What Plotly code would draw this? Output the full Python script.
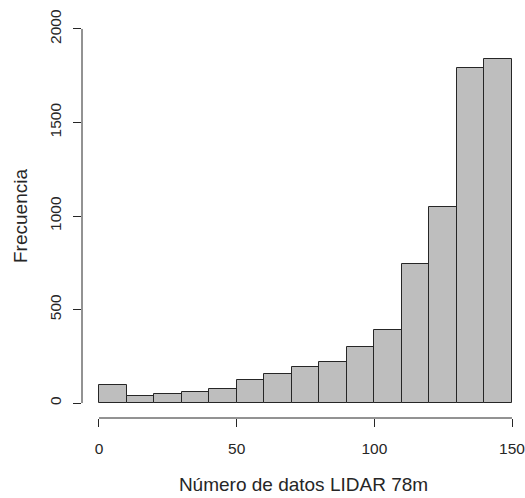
import plotly.graph_objects as go

bin_starts = [0, 10, 20, 30, 40, 50, 60, 70, 80, 90, 100, 110, 120, 130, 140]
bin_width = 10
frecuencia = [98, 37, 50, 61, 77, 123, 154, 191, 220, 301, 389, 742, 1048, 1792, 1841]
x_ticks = [0, 50, 100, 150]
y_ticks = [0, 500, 1000, 1500, 2000]

centers = [s + bin_width / 2 for s in bin_starts]

FONT = "Liberation Sans, Arial, sans-serif"
INK = "#262626"
fig = go.Figure(go.Bar(
    x=centers, y=frecuencia, width=[bin_width] * len(centers),
    marker=dict(color="#BEBEBE", line=dict(color=INK, width=1)),
    hoverinfo="skip",
))

fig.update_layout(
    width=525, height=498,
    margin=dict(l=82, r=0, t=14, b=80),
    paper_bgcolor="white", plot_bgcolor="white",
    showlegend=False,
    font=dict(family=FONT, size=15.5, color=INK),
    bargap=0,
)
fig.update_xaxes(
    range=[-6.17, 154.72], tickvals=x_ticks, ticks="outside", ticklen=8,
    tickcolor=INK, tickwidth=1, showgrid=False, zeroline=False, showline=False,
    ticklabelstandoff=8, ticklabeloverflow="allow",
    title=dict(text="Número de datos LIDAR 78m", standoff=22),
)
fig.update_yaxes(
    range=[-80, 2080], tickvals=y_ticks, ticks="outside", ticklen=8,
    tickcolor=INK, tickwidth=1, showgrid=False, zeroline=False, showline=False,
    tickangle=-90, ticklabelstandoff=6, ticklabeloverflow="allow",
    title=dict(text="Frecuencia", standoff=14),
)
fig.add_shape(type="line", xref="x", yref="paper", x0=x_ticks[0], x1=x_ticks[-1], y0=0, y1=0,
              line=dict(color=INK, width=1))
fig.add_shape(type="line", xref="paper", yref="y", x0=0, x1=0, y0=y_ticks[0], y1=y_ticks[-1],
              line=dict(color=INK, width=1))

fig.write_html("out.html")
